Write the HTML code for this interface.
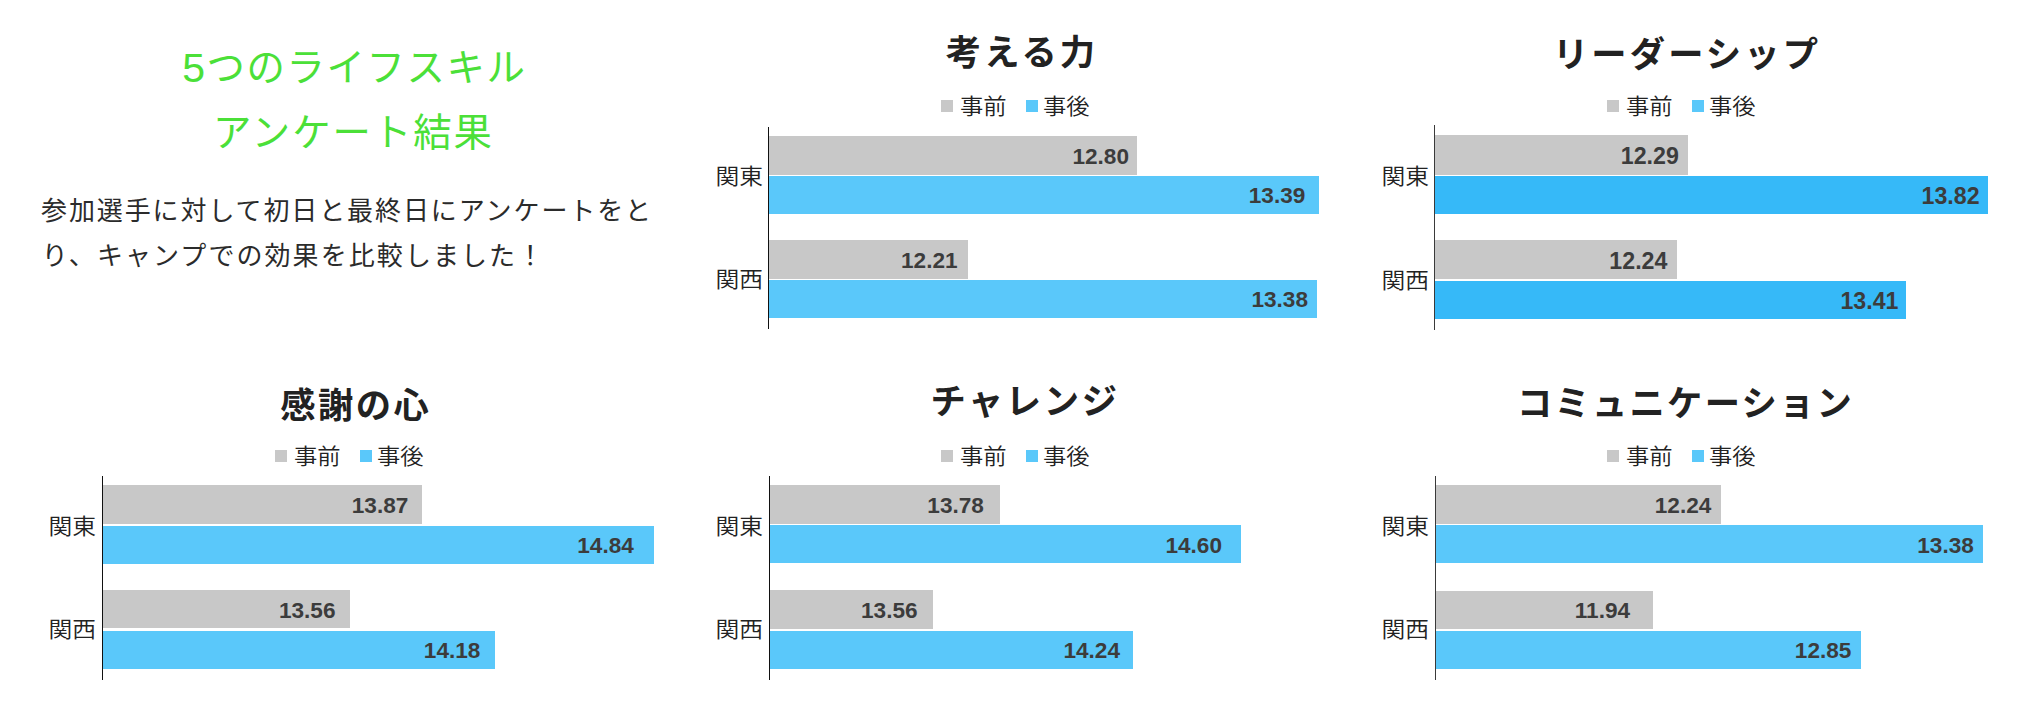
<!DOCTYPE html>
<html lang="ja"><head><meta charset="utf-8"><title>5つのライフスキル アンケート結果</title>
<style>
html,body{margin:0;padding:0;background:#fff;}
body{width:2034px;height:706px;position:relative;overflow:hidden;font-family:"Liberation Sans","Noto Sans CJK JP",sans-serif;}
.abs{position:absolute;white-space:nowrap;}
.h1{left:54px;width:600px;text-align:center;color:#4be038;font-size:38.4px;font-weight:400;line-height:65px;letter-spacing:1.6px;font-family:"Liberation Sans","Noto Sans CJK JP",sans-serif;}
.p{left:41px;color:#2b2b2b;font-size:26px;font-weight:400;line-height:45px;height:45px;letter-spacing:1.9px;font-family:"Liberation Sans","Noto Sans CJK JP",sans-serif;}
.t{color:#222;font-size:35.3px;font-weight:700;letter-spacing:3.1px;line-height:50px;height:50px;text-align:center;width:500px;font-family:"Liberation Sans","Noto Sans CJK JP",sans-serif;}
.lg{font-size:22px;line-height:30px;height:30px;color:#222;font-weight:350;letter-spacing:0px;transform:scaleX(1.06);transform-origin:0 50%;font-family:"Liberation Sans","Noto Sans CJK JP",sans-serif;}
.sq{width:12px;height:12px;}
.cat{font-size:22px;line-height:30px;height:30px;color:#222;font-weight:350;letter-spacing:0px;transform:scaleX(1.08);transform-origin:100% 50%;text-align:right;width:80px;font-family:"Liberation Sans","Noto Sans CJK JP",sans-serif;}
.ax{width:1px;background:#111;}
.v{font-family:"Liberation Sans",sans-serif;font-weight:700;font-size:22.6px;line-height:26px;height:26px;color:#3c3c3c;text-align:right;width:90px;}
</style></head><body>
<div class="abs h1" style="top:35.4px;left:54.3px"><span style="font-size:41px;position:relative;top:0.8px;line-height:1px">5</span>つのライフスキル</div>
<div class="abs h1" style="top:100.4px;letter-spacing:1.95px;left:53.5px">アンケート結果</div>
<div class="abs p" style="top:188.6px">参加選手に対して初日と最終日にアンケートをと</div>
<div class="abs p" style="top:233.6px;left:41.8px;letter-spacing:2.07px">り、キャンプでの効果を比較しました！</div>

<div class="abs t" style="left:772.0px;top:27.9px;letter-spacing:3.1px">考える力</div>
<div class="abs sq" style="left:941px;top:100px;background:#c8c8c8"></div>
<div class="abs lg" style="left:960px;top:92px">事前</div>
<div class="abs sq" style="left:1026px;top:100px;background:#5ac8fa"></div>
<div class="abs lg" style="left:1042.8px;top:92px">事後</div>
<div class="abs ax" style="left:768px;top:127px;height:202px"></div>
<div class="abs" style="left:769px;top:136px;width:368px;height:39px;background:#c8c8c8"></div>
<div class="abs v" style="left:1039px;top:143.7px">12.80</div>
<div class="abs" style="left:769px;top:176.3px;width:550px;height:37.3px;background:#5ac8fa"></div>
<div class="abs v" style="left:1215.3px;top:182.9px">13.39</div>
<div class="abs" style="left:769px;top:240px;width:199px;height:38.6px;background:#c8c8c8"></div>
<div class="abs v" style="left:867.6px;top:248.2px">12.21</div>
<div class="abs" style="left:769px;top:280.2px;width:548px;height:37.4px;background:#5ac8fa"></div>
<div class="abs v" style="left:1218px;top:287.2px">13.38</div>
<div class="abs cat" style="left:683.0px;top:161.6px">関東</div>
<div class="abs cat" style="left:683.0px;top:265.4px">関西</div>
<div class="abs t" style="left:1437.0px;top:30.3px;letter-spacing:3.1px">リーダーシップ</div>
<div class="abs sq" style="left:1607px;top:100px;background:#c8c8c8"></div>
<div class="abs lg" style="left:1626px;top:92px">事前</div>
<div class="abs sq" style="left:1692px;top:100px;background:#5ac8fa"></div>
<div class="abs lg" style="left:1708.8px;top:92px">事後</div>
<div class="abs ax" style="left:1434px;top:125px;height:205px;background:#3a3a3a"></div>
<div class="abs" style="left:1435px;top:135px;width:253px;height:40px;background:#c8c8c8"></div>
<div class="abs v" style="left:1588.8px;top:142.8px;font-size:23.2px">12.29</div>
<div class="abs" style="left:1435px;top:176px;width:553px;height:37.6px;background:#36b9f8"></div>
<div class="abs v" style="left:1889.6px;top:183.2px;font-size:23.2px">13.82</div>
<div class="abs" style="left:1435px;top:240.3px;width:242px;height:39.2px;background:#c8c8c8"></div>
<div class="abs v" style="left:1577.4px;top:247.8px;font-size:23.2px">12.24</div>
<div class="abs" style="left:1435px;top:281px;width:471px;height:37.5px;background:#36b9f8"></div>
<div class="abs v" style="left:1808.5px;top:287.5px;font-size:23.2px">13.41</div>
<div class="abs cat" style="left:1348.8px;top:162.0px">関東</div>
<div class="abs cat" style="left:1348.8px;top:266.0px">関西</div>
<div class="abs t" style="left:105.8px;top:380.5px;letter-spacing:2.5px">感謝の心</div>
<div class="abs sq" style="left:275px;top:450px;background:#c8c8c8"></div>
<div class="abs lg" style="left:294px;top:442px">事前</div>
<div class="abs sq" style="left:360px;top:450px;background:#5ac8fa"></div>
<div class="abs lg" style="left:376.8px;top:442px">事後</div>
<div class="abs ax" style="left:102px;top:476px;height:203.5px"></div>
<div class="abs" style="left:103px;top:485px;width:319px;height:38.6px;background:#c8c8c8"></div>
<div class="abs v" style="left:318.3px;top:493.0px">13.87</div>
<div class="abs" style="left:103px;top:525.6px;width:551px;height:38.1px;background:#5ac8fa"></div>
<div class="abs v" style="left:543.8px;top:533.4px">14.84</div>
<div class="abs" style="left:103px;top:590px;width:247px;height:38.3px;background:#c8c8c8"></div>
<div class="abs v" style="left:245.5px;top:598.2px">13.56</div>
<div class="abs" style="left:103px;top:630.7px;width:392px;height:38.1px;background:#5ac8fa"></div>
<div class="abs v" style="left:390.4px;top:638.2px">14.18</div>
<div class="abs cat" style="left:15.8px;top:511.9px">関東</div>
<div class="abs cat" style="left:15.8px;top:615.4px">関西</div>
<div class="abs t" style="left:775.0px;top:376.9px;letter-spacing:2.6px">チャレンジ</div>
<div class="abs sq" style="left:941px;top:450px;background:#c8c8c8"></div>
<div class="abs lg" style="left:960px;top:442px">事前</div>
<div class="abs sq" style="left:1026px;top:450px;background:#5ac8fa"></div>
<div class="abs lg" style="left:1042.8px;top:442px">事後</div>
<div class="abs ax" style="left:768.5px;top:476px;height:203.5px"></div>
<div class="abs" style="left:769.5px;top:485px;width:230.5px;height:38.6px;background:#c8c8c8"></div>
<div class="abs v" style="left:893.9px;top:492.6px">13.78</div>
<div class="abs" style="left:769.5px;top:525.3px;width:471.5px;height:37.5px;background:#5ac8fa"></div>
<div class="abs v" style="left:1132px;top:532.8px">14.60</div>
<div class="abs" style="left:769.5px;top:590px;width:163.5px;height:38.6px;background:#c8c8c8"></div>
<div class="abs v" style="left:827.6px;top:598.2px">13.56</div>
<div class="abs" style="left:769.5px;top:630.7px;width:363.1px;height:38.1px;background:#5ac8fa"></div>
<div class="abs v" style="left:1030px;top:638.2px">14.24</div>
<div class="abs cat" style="left:683.3px;top:511.9px">関東</div>
<div class="abs cat" style="left:683.3px;top:615.4px">関西</div>
<div class="abs t" style="left:1435.5px;top:379.1px;letter-spacing:2.25px">コミュニケーション</div>
<div class="abs sq" style="left:1607px;top:450px;background:#c8c8c8"></div>
<div class="abs lg" style="left:1626px;top:442px">事前</div>
<div class="abs sq" style="left:1692px;top:450px;background:#5ac8fa"></div>
<div class="abs lg" style="left:1708.8px;top:442px">事後</div>
<div class="abs ax" style="left:1434.5px;top:476px;height:203.70000000000005px;background:#3a3a3a"></div>
<div class="abs" style="left:1435.5px;top:485px;width:285.5px;height:38.6px;background:#c8c8c8"></div>
<div class="abs v" style="left:1621.3px;top:492.6px">12.24</div>
<div class="abs" style="left:1435.5px;top:525.3px;width:547.5px;height:37.5px;background:#5ac8fa"></div>
<div class="abs v" style="left:1883.8px;top:532.8px">13.38</div>
<div class="abs" style="left:1435.5px;top:591.2px;width:217.5px;height:38.1px;background:#c8c8c8"></div>
<div class="abs v" style="left:1540.1px;top:597.5px">11.94</div>
<div class="abs" style="left:1435.5px;top:631px;width:425.5px;height:37.8px;background:#5ac8fa"></div>
<div class="abs v" style="left:1761.4px;top:638.2px">12.85</div>
<div class="abs cat" style="left:1348.8px;top:511.9px">関東</div>
<div class="abs cat" style="left:1348.8px;top:615.4px">関西</div>
</body></html>
